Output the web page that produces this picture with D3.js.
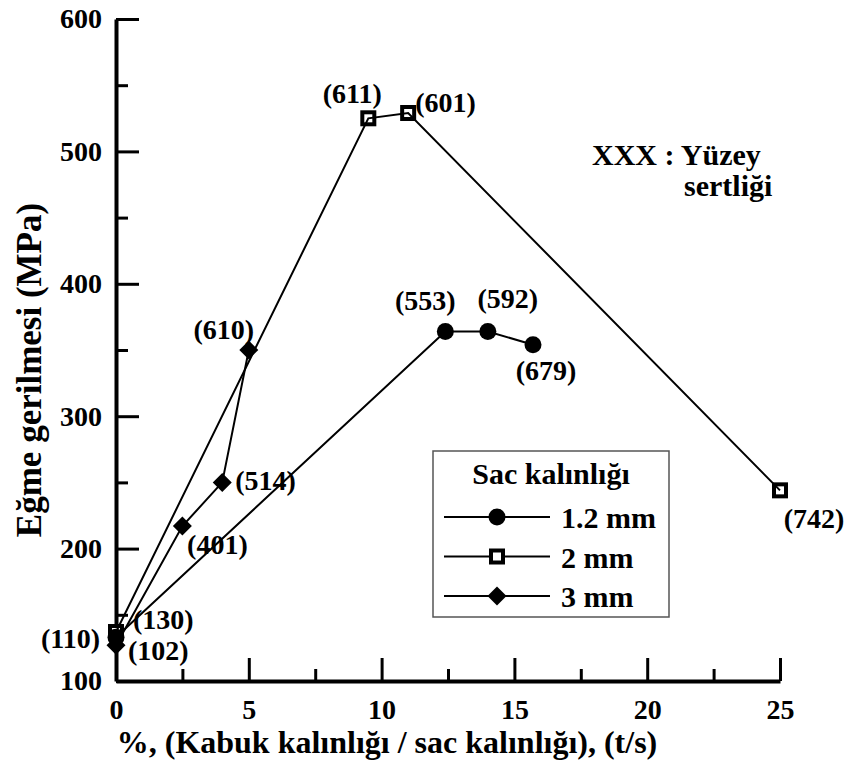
<!DOCTYPE html>
<html lang="tr">
<head>
<meta charset="utf-8">
<title>Eğme gerilmesi</title>
<script src="https://d3js.org/d3.v7.min.js"></script>
<style>
  body { margin: 0; background: #fff; }
  svg text { font-weight: bold; fill: #000; }
  .axis path, .axis line { stroke: #000; }
</style>
</head>
<body>
<div id="chart"></div>
<script>
var width = 845, height = 765;
var FONT = "Liberation Serif";

// data
var seriesNames = ["1.2 mm", "2 mm", "3 mm"];
var x12 = [0, 12.4, 14.0, 15.7],  y12 = [133, 364, 364, 354], h12 = [110, 553, 592, 679];
var x2  = [0, 9.5, 11, 25],       y2  = [137, 525, 529, 244], h2  = [130, 611, 601, 742];
var x3  = [0, 2.5, 4, 5],         y3  = [127, 217, 250, 350], h3  = [102, 401, 514, 610];
var xTicks = [0, 5, 10, 15, 20, 25];
var yTicks = [100, 200, 300, 400, 500, 600];

// label placement [anchor, dx, dy] relative to each point
var lab12 = [["end", -16, 11], ["middle", -20, -21], ["middle", 20, -23], ["middle", 13, 35]];
var lab2  = [["start", 17, -3], ["middle", -16, -15], ["start", 7, -1], ["middle", 34, 38]];
var lab3  = [["start", 12, 15], ["middle", 35, 28], ["start", 13, 8], ["middle", -25, -11]];

var x = d3.scaleLinear().domain([0, 25]).range([116, 780]);
var y = d3.scaleLinear().domain([100, 600]).range([681, 19]);

var svg = d3.select("#chart").append("svg")
    .attr("width", width)
    .attr("height", height)
    .attr("font-family", FONT);

//----------------------------------
// axes
var ax = svg.append("g").attr("class", "axis")
    .attr("transform", "translate(0," + y(100) + ")")
    .call(d3.axisBottom(x).tickValues(xTicks).tickSize(-23).tickSizeOuter(0).tickPadding(18));
ax.append("g").call(d3.axisBottom(x).tickValues([2.5, 7.5, 12.5, 17.5, 22.5]).tickSize(-12).tickFormat(""))
  .select(".domain").remove();

var ay = svg.append("g").attr("class", "axis")
    .attr("transform", "translate(" + x(0) + ",0)")
    .call(d3.axisLeft(y).tickValues(yTicks).tickSize(-23).tickSizeOuter(0).tickPadding(14));
ay.append("g").call(d3.axisLeft(y).tickValues([150, 250, 350, 450, 550]).tickSize(-12).tickFormat(""))
  .select(".domain").remove();

svg.selectAll(".axis").attr("font-family", FONT);
svg.selectAll(".axis .domain").attr("stroke-width", 4);
svg.selectAll(".axis line").attr("stroke-width", 3);
svg.selectAll(".axis .tick text")
    .attr("font-size", 28)
    .attr("font-weight", "bold")
    .attr("fill", "#000");

svg.append("text")
    .attr("x", 387).attr("y", 753)
    .attr("text-anchor", "middle")
    .attr("font-size", 32)
    .text("%, (Kabuk kalınlığı / sac kalınlığı), (t/s)");

svg.append("text")
    .attr("transform", "translate(41,370) rotate(-90)")
    .attr("text-anchor", "middle")
    .attr("font-size", 35)
    .text("Eğme gerilmesi (MPa)");

//----------------------------------
// markers
function marker(g, kind, cx, cy) {
  if (kind == 0) {
    g.append("circle").attr("cx", cx).attr("cy", cy).attr("r", 8.5).attr("fill", "#000");
  } else if (kind == 1) {
    g.append("rect").attr("x", cx - 6).attr("y", cy - 6).attr("width", 12).attr("height", 12)
      .attr("fill", "#fff").attr("stroke", "#000").attr("stroke-width", 4);
  } else {
    g.append("path").attr("d", "M" + cx + "," + (cy - 9.5) + "L" + (cx + 9.5) + "," + cy +
      "L" + cx + "," + (cy + 9.5) + "L" + (cx - 9.5) + "," + cy + "Z").attr("fill", "#000");
  }
}

var series = [
  {xs: x12, ys: y12, hs: h12, lab: lab12},
  {xs: x2,  ys: y2,  hs: h2,  lab: lab2},
  {xs: x3,  ys: y3,  hs: h3,  lab: lab3}
];
series.forEach(function(s) {
  s.pts = s.xs.map(function(v, i) { return [v, s.ys[i]]; });
});

var line = d3.line().x(function(d) { return x(d[0]); }).y(function(d) { return y(d[1]); });
var plot = svg.append("g");

// open squares under the lines, filled markers over them
series[1].pts.forEach(function(p) { marker(plot, 1, x(p[0]), y(p[1])); });
series.forEach(function(s) {
  plot.append("path").datum(s.pts)
      .attr("d", line)
      .attr("fill", "none")
      .attr("stroke", "#000")
      .attr("stroke-width", 2);
});
[2, 0].forEach(function(k) {
  series[k].pts.forEach(function(p) { marker(plot, k, x(p[0]), y(p[1])); });
});

series.forEach(function(s) {
  s.pts.forEach(function(p, i) {
    plot.append("text")
        .attr("x", x(p[0]) + s.lab[i][1])
        .attr("y", y(p[1]) + s.lab[i][2])
        .attr("text-anchor", s.lab[i][0])
        .attr("font-size", 28)
        .text("(" + s.hs[i] + ")");
  });
});

//----------------------------------
// note
svg.append("text").attr("x", 592).attr("y", 165).attr("font-size", 30).text("XXX : Yüzey");
svg.append("text").attr("x", 684).attr("y", 196).attr("font-size", 30).text("sertliği");

//----------------------------------
// legend
var lg = svg.append("g");
lg.append("rect")
    .attr("x", 433).attr("y", 451).attr("width", 236).attr("height", 166)
    .attr("fill", "#fff").attr("stroke", "#555").attr("stroke-width", 1.5);
lg.append("text").attr("x", 551).attr("y", 484).attr("text-anchor", "middle")
    .attr("font-size", 30).text("Sac kalınlığı");
seriesNames.forEach(function(name, k) {
  var ry = 517 + k * 39.5;
  lg.append("line").attr("x1", 444).attr("x2", 550).attr("y1", ry).attr("y2", ry)
      .attr("stroke", "#000").attr("stroke-width", 2);
  marker(lg, k, 497, ry);
  lg.append("text").attr("x", 561).attr("y", ry + 11).attr("font-size", 30).text(name);
});
</script>
</body>
</html>
